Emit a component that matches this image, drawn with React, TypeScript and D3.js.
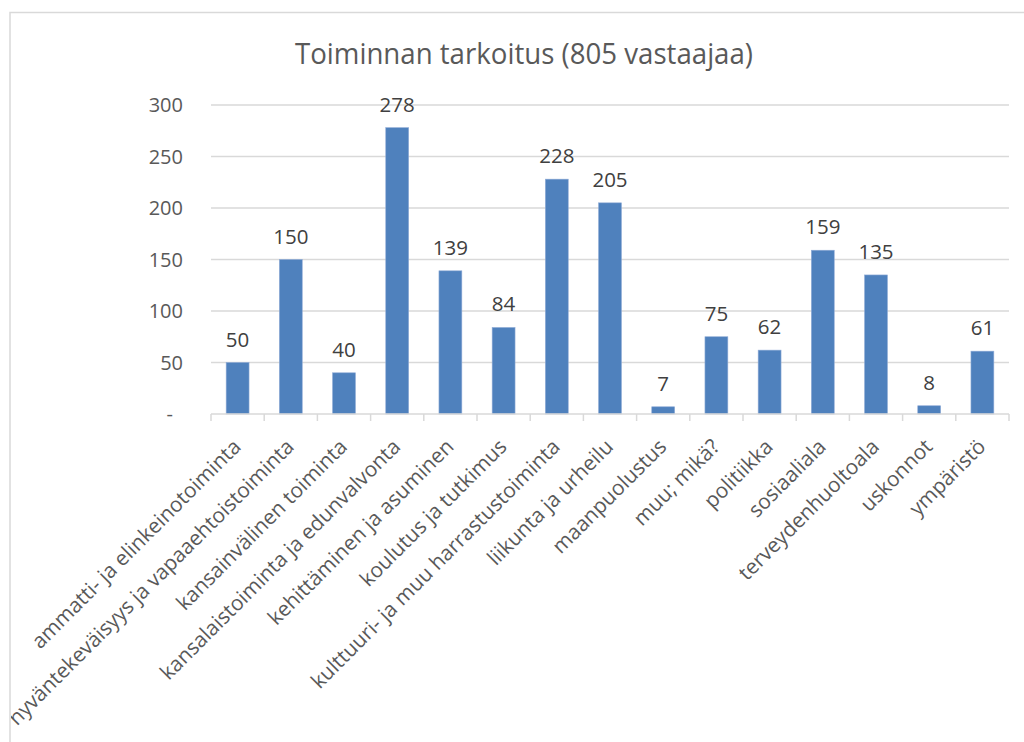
import React from 'react';
import * as d3 from 'd3';

const title = 'Toiminnan tarkoitus (805 vastaajaa)';

const categories = [
  'ammatti- ja elinkeinotoiminta',
  'hyväntekeväisyys ja vapaaehtoistoiminta',
  'kansainvälinen toiminta',
  'kansalaistoiminta ja edunvalvonta',
  'kehittäminen ja asuminen',
  'koulutus ja tutkimus',
  'kulttuuri- ja muu harrastustoiminta',
  'liikunta ja urheilu',
  'maanpuolustus',
  'muu; mikä?',
  'politiikka',
  'sosiaaliala',
  'terveydenhuoltoala',
  'uskonnot',
  'ympäristö',
];

const counts = [50, 150, 40, 278, 139, 84, 228, 205, 7, 75, 62, 159, 135, 8, 61];

const yTicks = [0, 50, 100, 150, 200, 250, 300];

const width = 1024;
const height = 742;
const font = '"Open Sans", "Noto Sans", sans-serif';

export default function App() {
  const left = 211;
  const right = 1009;
  const top = 105;
  const bottom = 414;

  const x = d3.scaleBand<string>()
    .domain(categories)
    .range([left, right])
    .paddingInner(0.57)
    .paddingOuter(0.285);

  const y = d3.scaleLinear().domain([0, 300]).range([bottom, top]);

  const step = x.step();
  const boundaries = d3.range(categories.length + 1).map(i => left + i * step);

  return (
    <div style={{ position: 'absolute', left: 0, top: 0 }}>
      <svg width={width} height={height} style={{ display: 'block', background: '#fff' }}>
        <defs>
          <clipPath id="frame">
            <rect x={11} y={13} width={width - 11} height={height - 13} />
          </clipPath>
        </defs>

        {/* chart frame, cut off on the right and at the bottom */}
        <path d={`M10,${height} V12.5 H${width}`} fill="none" stroke="#d9d9d9" strokeWidth={1.5} />

        <text
          x={524}
          y={64}
          textAnchor="middle"
          fontFamily={font}
          fontSize={29}
          fill="#595959"
          textLength={458}
          lengthAdjust="spacingAndGlyphs"
        >
          {title}
        </text>

        {/* gridlines */}
        {yTicks.filter(t => t > 0).map(t => (
          <line key={t} x1={left} x2={right} y1={y(t)} y2={y(t)} stroke="#d9d9d9" strokeWidth={1.3} />
        ))}

        {/* y labels */}
        {yTicks.map(t => (
          <text
            key={t}
            x={t === 0 ? 173 : 183}
            y={y(t)}
            dy="0.35em"
            textAnchor="end"
            fontFamily={font}
            fontSize={20}
            fill="#595959"
          >
            {t === 0 ? '-' : t}
          </text>
        ))}

        {/* bars */}
        {categories.map((c, i) => (
          <rect
            key={c}
            x={x(c)}
            y={y(counts[i])}
            width={x.bandwidth()}
            height={bottom - y(counts[i])}
            fill="#4f81bd"
            stroke="#8eaad6"
            strokeWidth={0.6}
          />
        ))}

        {/* x axis */}
        <line x1={left} x2={right} y1={bottom} y2={bottom} stroke="#d9d9d9" strokeWidth={1.5} />
        {boundaries.map((bx, i) => (
          <line key={i} x1={bx} x2={bx} y1={bottom} y2={bottom + 7} stroke="#d9d9d9" strokeWidth={1.5} />
        ))}

        {/* value labels */}
        {categories.map((c, i) => (
          <text
            key={c}
            x={(x(c) as number) + x.bandwidth() / 2}
            y={y(counts[i]) - 16}
            textAnchor="middle"
            fontFamily={font}
            fontSize={20.5}
            fill="#404040"
          >
            {counts[i]}
          </text>
        ))}

        {/* category labels, the long one is cut by the frame as in the original */}
        <g clipPath="url(#frame)">
          {categories.map(c => {
            const cx = (x(c) as number) + x.bandwidth() / 2;
            return (
              <text
                key={c}
                transform={`translate(${cx + 4.5},448) rotate(-45)`}
                textAnchor="end"
                fontFamily={font}
                fontSize={20.8}
                fill="#595959"
              >
                {c}
              </text>
            );
          })}
        </g>
      </svg>
    </div>
  );
}
